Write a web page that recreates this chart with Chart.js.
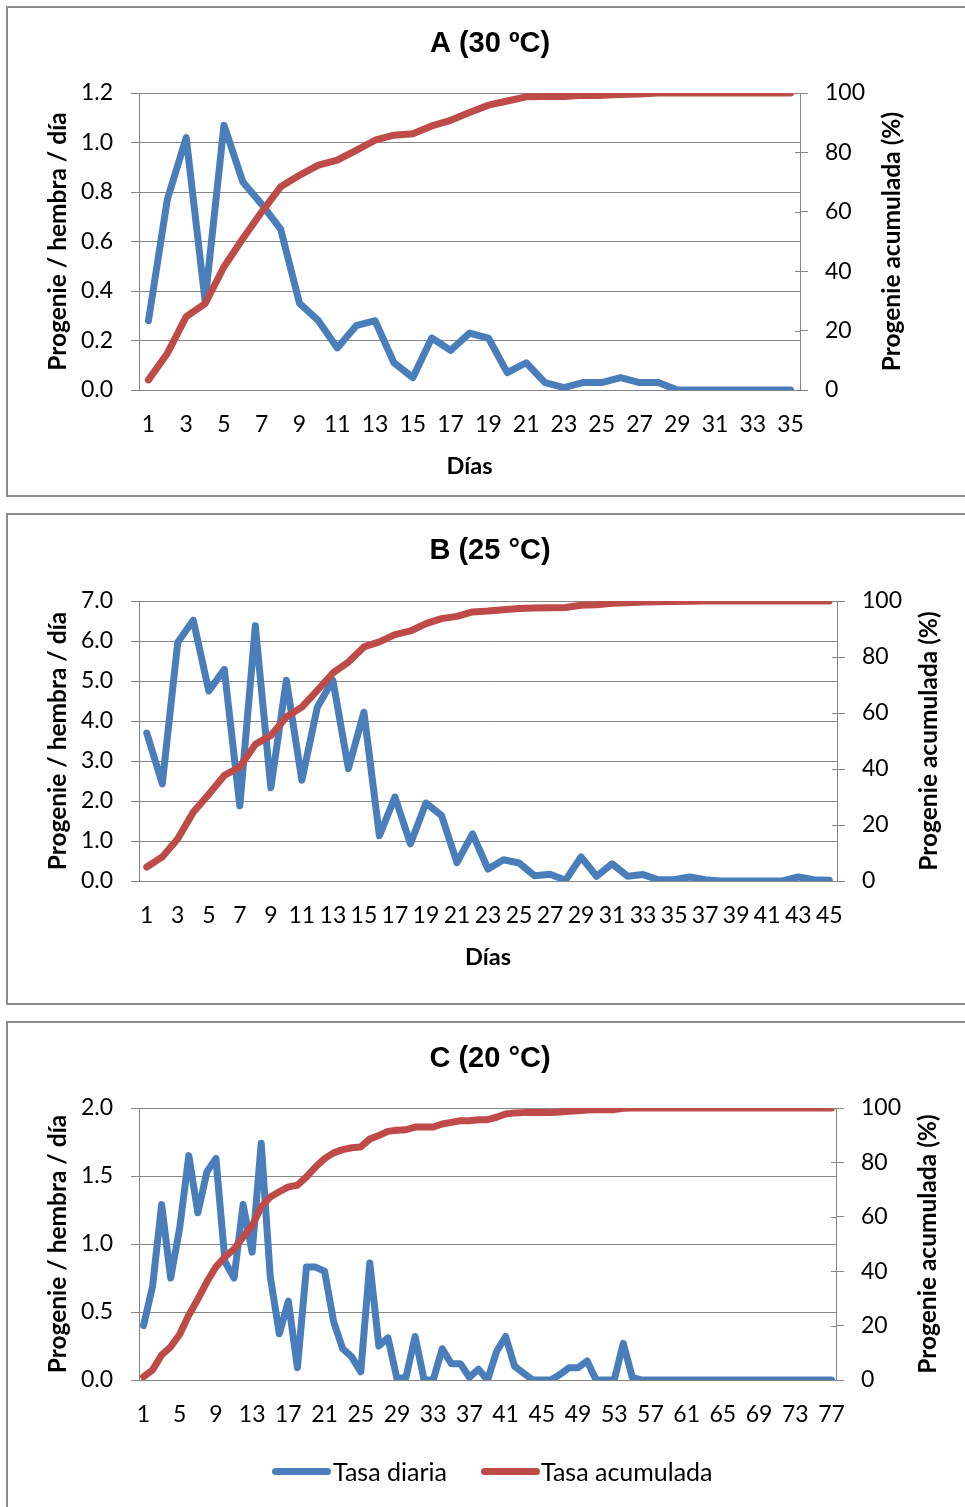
<!DOCTYPE html>
<html>
<head>
<meta charset="utf-8">
<title>Progenie por hembra</title>
<script src="https://cdn.jsdelivr.net/npm/chart.js@4.4.1/dist/chart.umd.min.js"></script>
<style>
  html, body { margin: 0; padding: 0; background: #fff; overflow: hidden; width: 965px; height: 1507px; }
  .frame { position: absolute; left: 6px; width: 980px; border: 2px solid #8c8c8c; box-sizing: border-box; }
  canvas.panel { position: absolute; left: 0; }
  #legend { position: absolute; top: 1457px; left: 0; width: 965px; height: 28px; font: 25px Lato, sans-serif; color: #000; }
  #legend .swatch { position: absolute; top: 11px; height: 7px; border-radius: 4px; }
  #legend .label { position: absolute; top: 0; height: 28px; line-height: 28px; white-space: nowrap; }
</style>
</head>
<body>
<div class="frame" style="top:6px;height:491px;"></div>
<div class="frame" style="top:513px;height:492px;"></div>
<div class="frame" style="top:1021px;height:500px;"></div>

<canvas id="chartA" class="panel" width="980" height="491" style="top:6px;"></canvas>
<canvas id="chartB" class="panel" width="980" height="491" style="top:513px;"></canvas>
<canvas id="chartC" class="panel" width="980" height="486" style="top:1021px;"></canvas>

<div id="legend">
  <div class="swatch" style="left:272px;width:59px;background:#4a7ebb;"></div>
  <div class="label" style="left:333px;">Tasa diaria</div>
  <div class="swatch" style="left:481px;width:59px;background:#be4b48;"></div>
  <div class="label" style="left:541px;">Tasa acumulada</div>
</div>

<script>
// Panel A (30 ºC): daily progeny per female and cumulative percentage
const DAILY_A = [0.28, 0.77, 1.02, 0.36, 1.07, 0.84, 0.75, 0.65, 0.35, 0.28,
                 0.17, 0.26, 0.28, 0.11, 0.05, 0.21, 0.16, 0.23, 0.21, 0.07,
                 0.11, 0.03, 0.01, 0.03, 0.03, 0.05, 0.03, 0.03, 0, 0,
                 0, 0, 0, 0, 0];
const CUM_A = [3.4, 12.3, 24.7, 29.1, 41.5, 51.0, 60.0, 68.4, 72.3, 75.7,
               77.4, 80.7, 84.1, 85.8, 86.3, 88.9, 90.8, 93.4, 95.9, 97.3,
               98.7, 98.8, 98.8, 99.2, 99.2, 99.5, 99.7, 100, 100, 100,
               100, 100, 100, 100, 100];
const TICKS_A = [1, 3, 5, 7, 9, 11, 13, 15, 17, 19, 21, 23, 25, 27, 29, 31, 33, 35];

// Panel B (25 °C)
const DAILY_B = [3.70, 2.43, 5.97, 6.52, 4.75, 5.29, 1.88, 6.38, 2.33, 5.02,
                 2.52, 4.35, 5.02, 2.81, 4.22, 1.13, 2.10, 0.93, 1.95, 1.64,
                 0.46, 1.18, 0.30, 0.53, 0.45, 0.13, 0.17, 0.02, 0.60, 0.12,
                 0.43, 0.12, 0.16, 0.03, 0.03, 0.10, 0.03, 0, 0, 0,
                 0, 0, 0.10, 0.03, 0.02];
const CUM_B = [5.0, 8.6, 15.1, 24.6, 31.0, 37.7, 40.7, 48.8, 52.0, 58.6,
               62.1, 68.1, 74.3, 78.2, 83.6, 85.4, 88.0, 89.3, 91.9, 93.7,
               94.5, 96.1, 96.4, 96.9, 97.3, 97.5, 97.6, 97.7, 98.5, 98.7,
               99.2, 99.4, 99.6, 99.7, 99.8, 99.9, 100, 100, 100, 100,
               100, 100, 100, 100, 100];
const TICKS_B = [1, 3, 5, 7, 9, 11, 13, 15, 17, 19, 21, 23, 25, 27, 29, 31, 33, 35, 37, 39, 41, 43, 45];

// Panel C (20 °C)
const DAILY_C = [0.40, 0.69, 1.29, 0.75, 1.12, 1.65, 1.23, 1.53, 1.63, 0.87,
                 0.75, 1.29, 0.94, 1.74, 0.76, 0.34, 0.58, 0.09, 0.83, 0.83,
                 0.80, 0.43, 0.23, 0.17, 0.06, 0.86, 0.25, 0.31, 0.01, 0.02,
                 0.32, 0, 0, 0.23, 0.12, 0.12, 0.02, 0.08, 0, 0.21,
                 0.32, 0.10, 0.05, 0, 0, 0, 0.04, 0.09, 0.09, 0.14,
                 0, 0, 0, 0.27, 0.02, 0, 0, 0, 0, 0,
                 0, 0, 0, 0, 0, 0, 0, 0, 0, 0,
                 0, 0, 0, 0, 0, 0, 0];
const CUM_C = [1.2, 3.7, 9.2, 12.2, 16.8, 23.9, 29.7, 36.1, 41.6, 45.3,
               48.1, 52.6, 56.7, 63.6, 67.3, 69.2, 71.0, 71.6, 74.7, 78.3,
               81.4, 83.5, 84.7, 85.4, 85.7, 88.6, 89.9, 91.4, 91.8, 92.0,
               93.0, 93.0, 93.0, 94.1, 94.7, 95.3, 95.3, 95.7, 95.7, 96.6,
               97.8, 98.2, 98.3, 98.3, 98.3, 98.3, 98.5, 98.8, 99.0, 99.3,
               99.4, 99.4, 99.4, 99.9, 100, 100, 100, 100, 100, 100,
               100, 100, 100, 100, 100, 100, 100, 100, 100, 100,
               100, 100, 100, 100, 100, 100, 100];
const TICKS_C = [1, 5, 9, 13, 17, 21, 25, 29, 33, 37, 41, 45, 49, 53, 57, 61, 65, 69, 73, 77];

const SERIES_NAMES = ['Tasa diaria', 'Tasa acumulada'];
const Y_TITLE = 'Progenie / hembra / día';
const Y1_TITLE = 'Progenie acumulada (%)';
const X_TITLE = 'Días';

const BLUE = '#4a7ebb';
const RED = '#be4b48';
const GRID = '#868686';
const FONT = 'Lato, "Open Sans", sans-serif';
const TITLE_FONT = '"Liberation Sans", Arial, sans-serif';
const CANVAS_W = 980;
const TICK_SIZE = 23;
const AXIS_TITLE_SIZE = 24.5;
const TITLE_SIZE = 29;

// Day numbers used as category labels
function dayLabels(n) {
  return Array.from({ length: n }, (_, i) => String(i + 1));
}

// Short inner half of the right-axis tick marks plus the rotated right-axis title
const rightAxisExtras = {
  id: 'rightAxisExtras',
  afterDraw(chart, args, opts) {
    const { ctx, chartArea } = chart;
    const y1 = chart.scales.y1;
    ctx.save();
    ctx.strokeStyle = GRID;
    ctx.lineWidth = 1;
    ctx.beginPath();
    y1.ticks.forEach(t => {
      const y = Math.round(y1.getPixelForValue(t.value)) + 0.5;
      ctx.moveTo(chartArea.right - 5, y);
      ctx.lineTo(chartArea.right, y);
    });
    ctx.stroke();
    ctx.translate(chartArea.right + opts.offset, (chartArea.top + chartArea.bottom) / 2);
    ctx.rotate(-Math.PI / 2);
    ctx.fillStyle = '#000';
    ctx.font = 'bold ' + AXIS_TITLE_SIZE + 'px ' + FONT;
    ctx.textAlign = 'center';
    ctx.textBaseline = 'middle';
    ctx.fillText(opts.text, 0, 0);
    ctx.restore();
  }
};

function makePanel(id, p) {
  const H = p.height;
  const titleLine = TITLE_SIZE * 1.2;
  const titlePadTop = 38 - titleLine / 2;
  const titlePadBottom = p.top - titlePadTop - titleLine;
  const xH = p.xTitle ? 100 : 60;
  const padBottom = H - p.bottom - xH;
  const tickHalf = TICK_SIZE * 1.2 / 2;
  const axisHalf = AXIS_TITLE_SIZE * 1.2 / 2;

  return new Chart(document.getElementById(id), {
    type: 'line',
    data: {
      labels: dayLabels(p.daily.length),
      datasets: [
        {
          label: SERIES_NAMES[0], data: p.daily, yAxisID: 'y', order: 1,
          borderColor: BLUE, backgroundColor: BLUE, borderWidth: 7,
          borderCapStyle: 'round', borderJoinStyle: 'round',
          pointRadius: 0, tension: 0, fill: false
        },
        {
          label: SERIES_NAMES[1], data: p.cum, yAxisID: 'y1', order: 0,
          borderColor: RED, backgroundColor: RED, borderWidth: 7,
          borderCapStyle: 'round', borderJoinStyle: 'round',
          pointRadius: 0, tension: 0, fill: false
        }
      ]
    },
    options: {
      responsive: false,
      animation: false,
      devicePixelRatio: 1,
      layout: { padding: { left: 0, right: 0, top: 0, bottom: padBottom } },
      plugins: {
        legend: { display: false },
        tooltip: { enabled: false },
        title: {
          display: true, text: p.title, color: '#000',
          font: { family: TITLE_FONT, size: TITLE_SIZE, weight: 'bold', lineHeight: 1.2 },
          padding: { top: titlePadTop, bottom: titlePadBottom }
        },
        rightAxisExtras: { text: Y1_TITLE, offset: 92 }
      },
      scales: {
        x: {
          type: 'category',
          offset: true,
          grid: { display: false, drawTicks: false },
          border: { display: true, color: GRID, width: 1 },
          ticks: {
            autoSkip: false, maxRotation: 0, minRotation: 0,
            padding: 35 - tickHalf, color: '#000',
            font: { family: FONT, size: TICK_SIZE },
            callback: function (v) {
              const d = this.getLabelForValue(v);
              return p.ticks.includes(Number(d)) ? d : '';
            }
          },
          title: {
            display: !!p.xTitle, text: X_TITLE, color: '#000',
            font: { family: FONT, size: 23.5, weight: 'bold', lineHeight: 1.2 },
            padding: { top: 0, bottom: 24 - 23.5 * 0.6 }
          },
          afterFit: s => { s.height = xH; }
        },
        y: {
          position: 'left',
          min: 0, max: p.yMax,
          grid: { color: GRID, lineWidth: 1, drawTicks: true, tickLength: 8, tickColor: GRID },
          border: { display: true, color: GRID, width: 1 },
          ticks: {
            stepSize: p.yStep, padding: 18, color: '#000',
            font: { family: FONT, size: TICK_SIZE },
            callback: v => Number(v).toFixed(1)
          },
          title: {
            display: true, text: Y_TITLE, color: '#000',
            font: { family: FONT, size: AXIS_TITLE_SIZE, weight: 'bold', lineHeight: 1.2 },
            padding: { top: 58 - axisHalf, bottom: 0 }
          },
          afterFit: s => { s.width = 139; }
        },
        y1: {
          position: 'right',
          min: 0, max: 100,
          grid: { drawOnChartArea: false, drawTicks: true, tickLength: 8, color: GRID, tickColor: GRID },
          border: { display: true, color: GRID, width: 1 },
          ticks: {
            stepSize: 20, padding: 17, color: '#000',
            font: { family: FONT, size: TICK_SIZE }
          },
          afterFit: s => { s.width = CANVAS_W - p.right; }
        }
      }
    },
    plugins: [rightAxisExtras]
  });
}

makePanel('chartA', {
  title: 'A (30 ºC)', daily: DAILY_A, cum: CUM_A, ticks: TICKS_A,
  yMax: 1.2, yStep: 0.2, height: 491, top: 87, bottom: 384, right: 800, xTitle: true
});
makePanel('chartB', {
  title: 'B (25 °C)', daily: DAILY_B, cum: CUM_B, ticks: TICKS_B,
  yMax: 7, yStep: 1, height: 491, top: 88, bottom: 368, right: 837, xTitle: true
});
makePanel('chartC', {
  title: 'C (20 °C)', daily: DAILY_C, cum: CUM_C, ticks: TICKS_C,
  yMax: 2, yStep: 0.5, height: 486, top: 87, bottom: 359, right: 836, xTitle: false
});
</script>
</body>
</html>
